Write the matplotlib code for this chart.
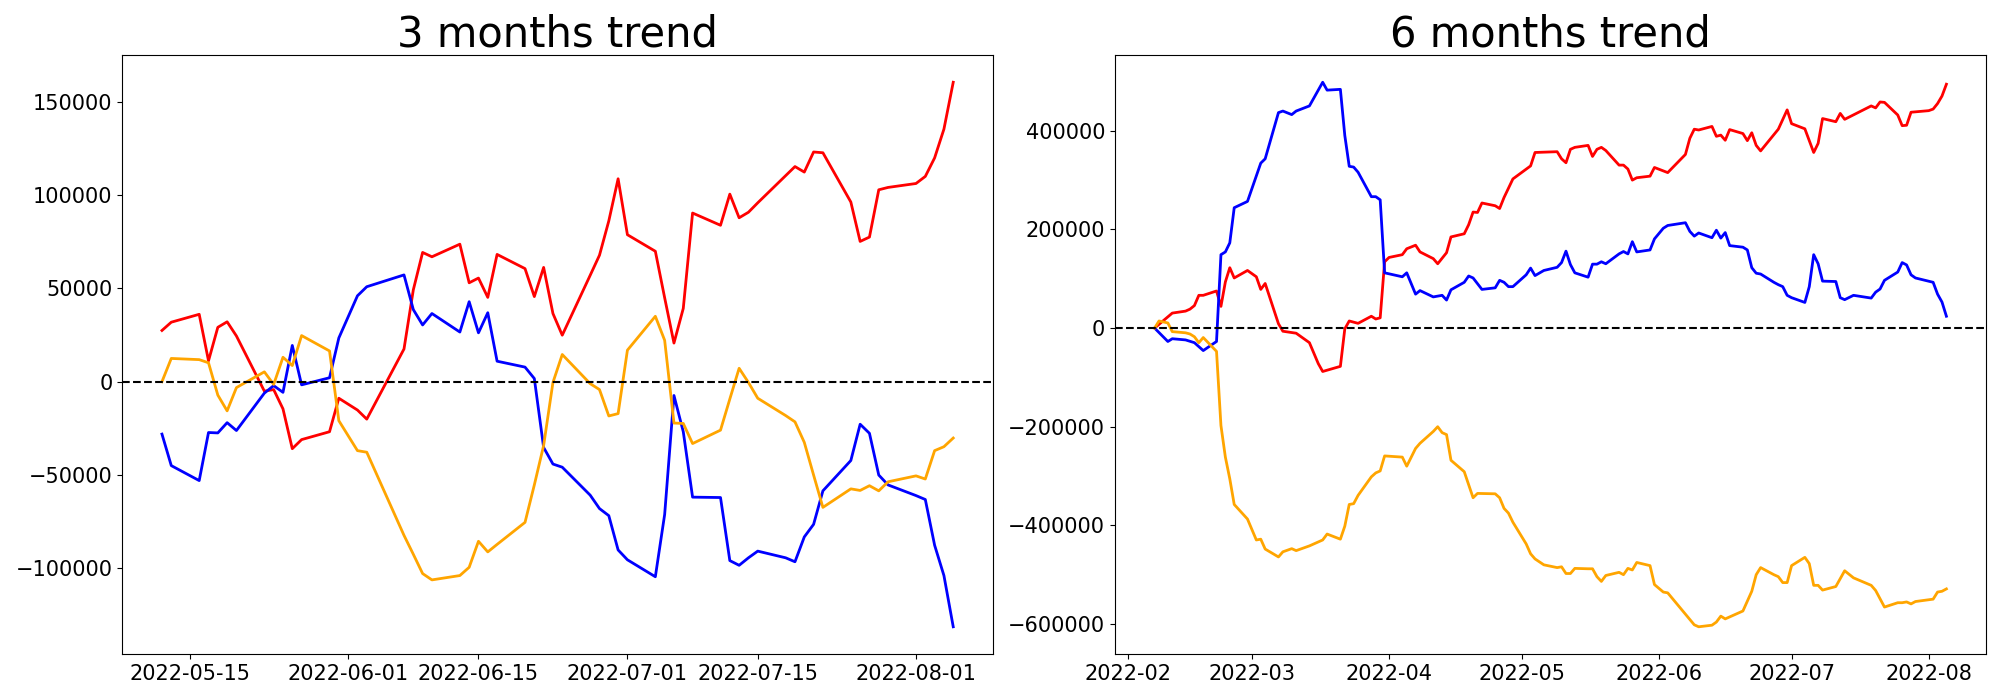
import numpy as np
import pandas as pd
import matplotlib
matplotlib.use("Agg")
import matplotlib.pyplot as plt

# ---- 3 months panel: day offsets from 2022-05-15 ----
base_3m = "2022-05-15"
days_3m = [-3, -2, 1, 2, 3, 4, 5, 8, 9, 10, 11, 12, 15, 16, 18, 19, 23, 24, 25, 26,
           29, 30, 31, 32, 33, 36, 37, 38, 39, 40, 43, 44, 45, 46, 47, 50, 51, 52, 53, 54,
           57, 58, 59, 60, 61, 64, 65, 66, 67, 68, 71, 72, 73, 74, 75, 78, 79, 80, 81, 82]

red_3m = [27470, 31910, 36140, 11200, 29160, 32120, 24510, -5070, -4230, -14580,
          -35930, -31060, -26840, -8880, -15210, -20080, 17540, 49240, 69320, 66990,
          73750, 53040, 55580, 45220, 68260, 60650, 45650, 61290, 36560, 24940,
          57060, 67840, 86220, 108830, 78820, 69950, 45010, 20710, 39310, 90450,
          83890, 100590, 87910, 90870, 95940, 110520, 115380, 112420, 123200, 122780,
          96360, 75230, 77560, 102920, 104190, 106300, 110100, 120030, 135460, 160600]

blue_3m = [-28110, -45010, -53040, -27260, -27470, -21980, -26200, -6130, -2110, -5710,
           19440, -1690, 2110, 23460, 46070, 50930, 57270, 38670, 30430, 36560,
           26630, 42900, 26200, 36980, 10990, 7820, 1690, -35290, -44170, -45860,
           -60860, -68050, -71850, -90240, -95520, -104610, -71220, -7400, -26840, -61920,
           -62130, -95940, -98480, -94460, -90870, -94460, -96580, -83260, -76500, -58540,
           -42270, -22820, -27680, -50080, -55370, -61080, -63190, -87700, -103970, -131450]

orange_3m = [0, 12470, 11830, 10140, -7190, -15640, -3170, 5280, -1480, 13100,
             8660, 24730, 16480, -20920, -36980, -37830, -82420, -92560, -102910, -106300,
             -103970, -99540, -85590, -91290, -87270, -75440, -55370, -34230, -420, 14580,
             -1060, -4230, -18380, -17120, 16900, 35080, 22190, -22190, -22400, -33180,
             -25990, -9300, 7190, -420, -8880, -18170, -21550, -32540, -50080, -67410,
             -57480, -58330, -55790, -58540, -53680, -50510, -52200, -36980, -34870, -30220]

# ---- 6 months panel: day offsets from 2022-02-01, one list per line ----
base_6m = "2022-02-01"
red_6m_days = [6, 10, 13, 14, 15, 16, 17, 20, 21, 22, 23, 24, 27, 29, 30, 31, 34, 35, 38, 41,
               43, 44, 48, 49, 50, 51, 52, 55, 56, 57, 58, 59, 62, 63, 65, 66, 69, 70, 72, 73,
               76, 77, 78, 79, 80, 83, 84, 85, 87, 91, 92, 97, 98, 99, 100, 101, 104, 105, 106, 107,
               108, 111, 112, 113, 114, 115, 118, 119, 122, 126, 127, 128, 129, 132, 133, 134, 135, 136, 139, 140,
               141, 142, 143, 147, 149, 150, 153, 155, 156, 157, 160, 161, 162, 168, 169, 170, 171, 174, 175, 176,
               177, 181, 182, 183, 184, 185]
red_6m = [0, 30400, 34400, 38400, 45600, 66400, 66400, 75200, 44000, 93600,
          122400, 101600, 116800, 104000, 78400, 90400, 8800, -6400, -10400, -29600,
          -72000, -88000, -77600, -1600, 14400, 12000, 9600, 24000, 18400, 20800,
          134400, 143200, 148800, 160800, 168000, 154400, 140800, 130400, 152800, 184800,
          191200, 209600, 235200, 234400, 253600, 248000, 242400, 264800, 302400, 328800,
          356000, 357600, 343200, 335200, 362400, 366400, 370400, 348000, 362400, 366400,
          360000, 330400, 330400, 322400, 300000, 304800, 308000, 325600, 315200, 352000,
          384800, 403200, 401600, 408800, 388800, 391200, 380800, 402400, 394400, 380000,
          396000, 370400, 359200, 403200, 442400, 414400, 404000, 356000, 374400, 424800,
          418400, 435200, 423200, 450400, 446400, 458400, 457600, 432000, 410400, 411200,
          437600, 440800, 444000, 455200, 470400, 494400]

blue_6m_days = [6, 9, 10, 13, 15, 17, 20, 21, 22, 23, 24, 27, 30, 31, 34, 35, 37, 38, 41, 44,
                45, 48, 49, 50, 51, 52, 55, 56, 57, 58, 62, 63, 65, 66, 69, 71, 72, 73, 76, 77,
                78, 80, 83, 84, 85, 86, 87, 90, 91, 92, 94, 97, 98, 99, 100, 101, 104, 105, 106, 107,
                108, 111, 112, 113, 114, 115, 118, 119, 121, 122, 126, 127, 128, 129, 132, 133, 134, 135, 136, 139,
                140, 141, 142, 143, 146, 147, 148, 149, 150, 153, 154, 155, 156, 157, 160, 161, 162, 164, 168, 169,
                170, 171, 174, 175, 176, 177, 178, 182, 183, 184, 185]
blue_6m = [0, -27200, -21600, -24000, -29600, -45600, -27200, 148800, 154400, 172800,
           244000, 256800, 334400, 343200, 436800, 440000, 432800, 440000, 450400, 498400,
           482400, 484000, 390400, 328000, 326400, 316000, 266400, 266400, 260000, 112000,
           104000, 112000, 68800, 76000, 63200, 66400, 56800, 77600, 92800, 105600,
           101600, 78400, 81600, 96800, 92800, 84000, 84000, 108000, 121600, 106400,
           116800, 123200, 132800, 156000, 128800, 112000, 103200, 129600, 129600, 134400,
           130400, 150400, 155200, 150400, 175200, 154400, 158400, 180800, 202400, 208000,
           213600, 196000, 186400, 192800, 183200, 198400, 182400, 193600, 167200, 164000,
           158400, 122400, 111200, 109600, 92800, 88000, 84000, 66400, 61600, 52000,
           84000, 148800, 130400, 95200, 94400, 61600, 57600, 66400, 60800, 72800,
           79200, 96800, 113600, 132800, 128000, 108000, 101600, 92800, 68800, 52800,
           24000]

orange_6m_days = [6, 7, 9, 10, 13, 14, 15, 16, 17, 20, 21, 22, 23, 24, 27, 29, 30, 31, 34, 35,
                  37, 38, 41, 44, 45, 48, 49, 50, 51, 52, 55, 56, 57, 58, 62, 63, 65, 66, 69, 70,
                  71, 72, 73, 76, 77, 78, 79, 83, 84, 85, 86, 87, 90, 91, 92, 94, 97, 98, 99, 100,
                  101, 104, 105, 106, 107, 108, 111, 112, 113, 114, 115, 118, 119, 121, 122, 128, 129, 132, 133, 134,
                  135, 139, 141, 142, 143, 146, 147, 148, 149, 150, 153, 154, 155, 156, 157, 160, 162, 164, 168, 169,
                  171, 174, 175, 176, 177, 178, 182, 183, 184, 185]
orange_6m = [0, 14400, 10400, -7200, -9600, -12000, -17600, -29600, -19200, -47200,
             -197600, -261600, -305600, -357600, -387200, -429600, -428000, -448000, -464000, -453600,
             -447200, -451200, -441600, -429600, -417600, -428000, -401600, -357600, -356000, -339200,
             -301600, -293600, -289600, -259200, -261600, -280000, -244000, -233600, -209600, -200000,
             -212000, -216000, -268000, -291200, -317600, -344000, -335200, -336000, -344000, -365600,
             -375200, -393600, -437600, -457600, -468000, -480000, -485600, -484000, -497600, -497600,
             -487200, -488000, -488000, -504000, -513600, -501600, -495200, -500000, -487200, -490400,
             -475200, -481600, -520000, -535200, -536800, -601600, -605600, -602400, -596000, -584000,
             -589600, -573600, -533600, -500000, -485600, -500000, -504000, -516000, -516000, -481600,
             -464800, -477600, -521600, -521600, -531200, -524000, -492000, -506400, -521600, -532000,
             -565600, -556800, -556800, -555200, -559200, -554400, -549600, -535200, -533600, -528800]


def to_dates(base, offsets):
    return pd.Timestamp(base) + pd.to_timedelta(offsets, unit="D")


fig = plt.figure(figsize=(20, 7), dpi=100)
ax1 = fig.add_axes([0.0612, 0.0657, 0.4352, 0.8557])
ax2 = fig.add_axes([0.5575, 0.0657, 0.4355, 0.8557])

d3 = to_dates(base_3m, days_3m)
ax1.plot(d3, red_3m, color="red", lw=2)
ax1.plot(d3, blue_3m, color="blue", lw=2)
ax1.plot(d3, orange_3m, color="orange", lw=2)
ax1.axhline(0, color="black", linestyle="--", lw=1.5)
ax1.set_title("3 months trend", fontsize=30)

ax2.plot(to_dates(base_6m, red_6m_days), red_6m, color="red", lw=2)
ax2.plot(to_dates(base_6m, blue_6m_days), blue_6m, color="blue", lw=2)
ax2.plot(to_dates(base_6m, orange_6m_days), orange_6m, color="orange", lw=2)
ax2.axhline(0, color="black", linestyle="--", lw=1.5)
ax2.set_title("6 months trend", fontsize=30)

for ax in (ax1, ax2):
    ax.tick_params(labelsize=15)

fig.savefig("out.png", dpi=100)
